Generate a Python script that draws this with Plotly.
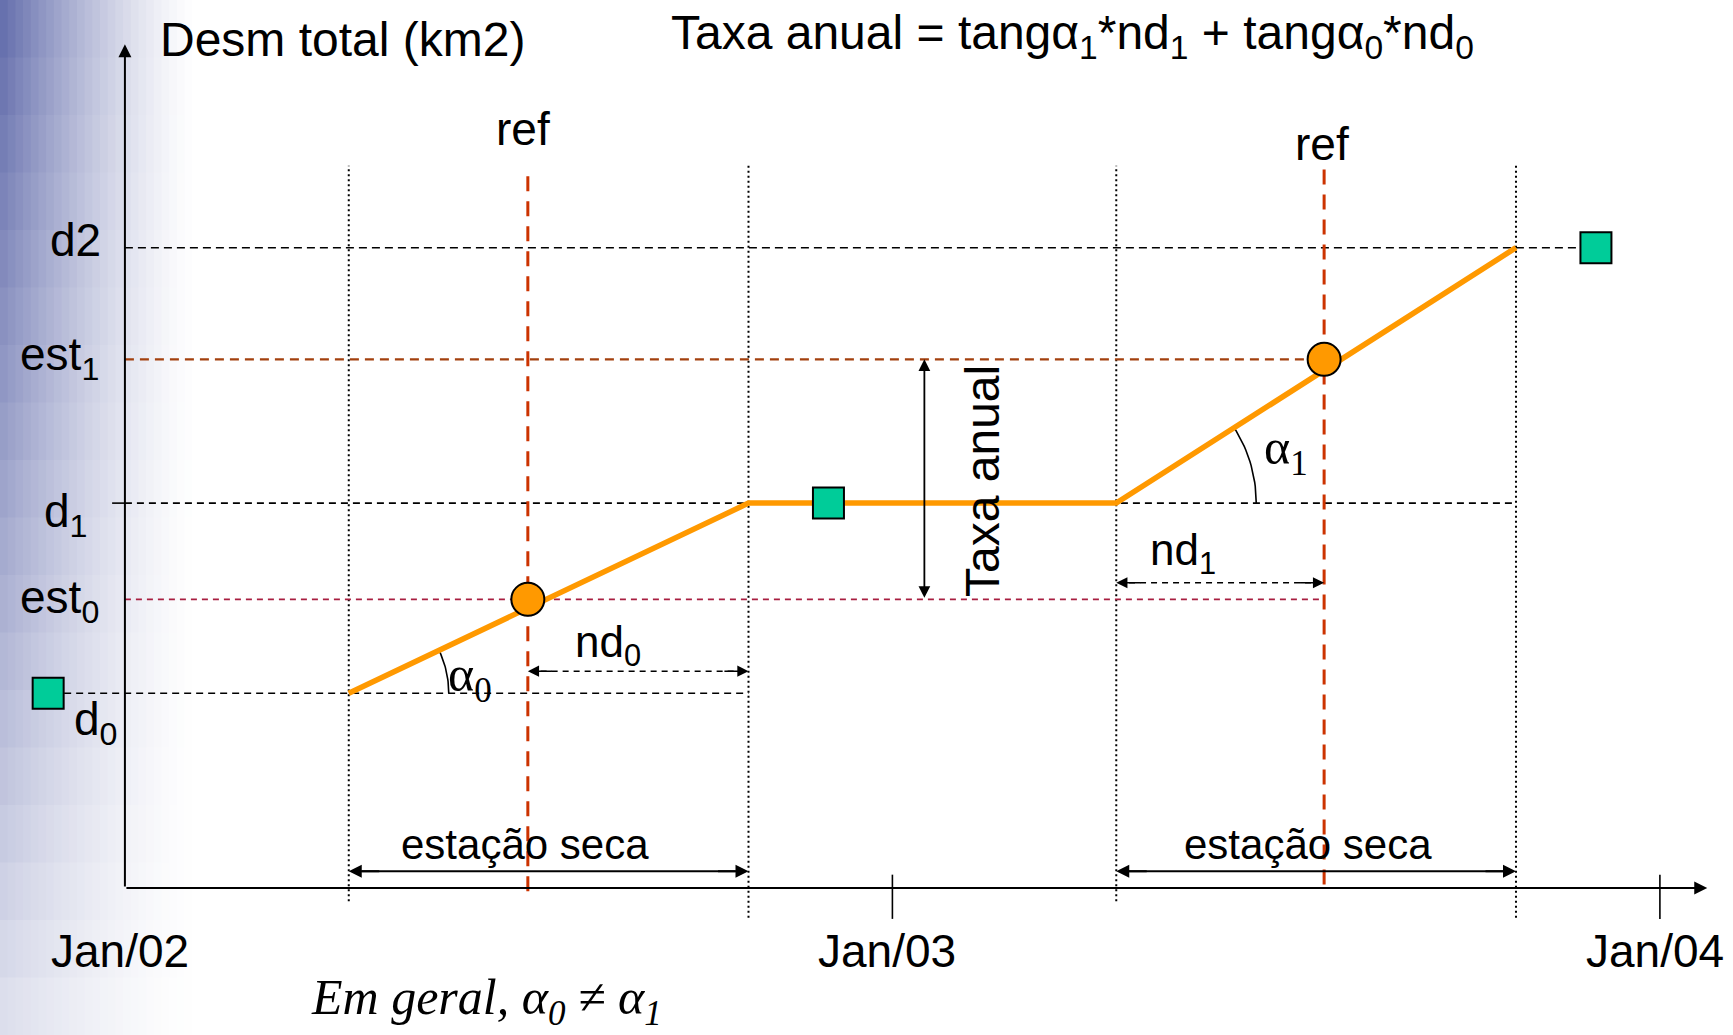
import numpy as np
import plotly.graph_objects as go

W, H = 1733, 1035

# ---------------- data (x = months since Jan/02, y = deforestation, arbitrary units)
month_ticks = [0, 12, 24]
tick_labels = ["Jan/02", "Jan/03", "Jan/04"]
season_bounds = [3.5, 9.75, 15.5, 21.75]      # dry season start / end, year 1 and year 2
ref_months = [6.3, 18.75]                     # reference dates

level_names = ["d0", "est0", "d1", "est1", "d2"]
level_values = [1.76, 2.61, 3.48, 4.78, 5.79]
d0, est0, d1, est1, d2 = level_values

cum_x = [3.5, 9.75, 15.5, 21.75]              # cumulative deforestation model
cum_y = [d0, d1, d1, d2]

obs_x = [-1.2, 11.0, 23.0]                    # observed totals (squares)
obs_y = [d0, d1, d2]

est_x = ref_months                            # estimates at reference dates (circles)
est_y = [est0, est1]

# ---------------- geometry helpers
XR = [-1.953, 25.143]
YR = [-1.33, 8.03]
PX = W / (XR[1] - XR[0])   # px per month
PY = H / (YR[1] - YR[0])   # px per unit

FONT = "Liberation Sans, Arial, sans-serif"
SERIF = "Liberation Serif, Times New Roman, serif"

fig = go.Figure()

def line(xs, ys, color="black", width=1.6, dash="solid"):
    fig.add_trace(go.Scatter(x=xs, y=ys, mode="lines", hoverinfo="skip",
                             line=dict(color=color, width=width, dash=dash)))

# background gradient on the left (paper coords)
shapes = []
ncol, nrow = 26, 18
for i in range(ncol):
    for j in range(nrow):
        px = (i + 0.5) * 200 / ncol
        py = (j + 0.5) * H / nrow
        a = max(0.0, 1 - px / 195) ** 1.35 * (1 - 0.8 * py / H)
        base = np.array([96, 106, 170])
        c = (1 - a) * np.array([255, 255, 255]) + a * base
        shapes.append(dict(type="rect", xref="paper", yref="paper", layer="below",
                           x0=i * 200 / ncol / W, x1=(i + 1) * 200 / ncol / W + 0.0005,
                           y0=1 - (j + 1) * H / nrow / H - 0.0005, y1=1 - j * H / nrow / H,
                           line=dict(width=0),
                           fillcolor="rgb(%d,%d,%d)" % tuple(int(v) for v in c)))

# vertical dotted lines (dry season bounds)
v_bottom = [-0.12, -0.27, -0.12, -0.27]
for xv, yb in zip(season_bounds, v_bottom):
    line([xv, xv], [yb, 6.53], width=2, dash="2px,3px")

# horizontal reference lines
line([0, obs_x[2] - 0.25], [d2, d2], dash="8px,5px")
line([0, est_x[1]], [est1, est1], color="#A3400E", width=2.2, dash="9px,6px")
line([0, season_bounds[3]], [d1, d1], dash="7px,5px")
line([-0.2, 0], [d1, d1], width=1.6)
line([0, est_x[1]], [est0, est0], color="#A81E40", width=1.8, dash="6px,5px")
line([obs_x[0] + 0.25, season_bounds[1]], [d0, d0], dash="7px,5px")

# ref dashed red lines
line([ref_months[0]] * 2, [-0.03, 6.45], color="#CC3300", width=3, dash="15px,10px")
line([ref_months[1]] * 2, [0.03, 6.53], color="#CC3300", width=3, dash="15px,10px")

# x-axis ticks
for t in month_ticks[1:]:
    line([t, t], [0.12, -0.28], width=1.6)

# nd dashed arrows
line([ref_months[0] + 0.2, season_bounds[1] - 0.2], [1.96, 1.96], dash="6px,5px")
line([season_bounds[2] + 0.2, ref_months[1] - 0.2], [2.76, 2.76], dash="6px,5px")

# dry-season arrows baseline
for a, b in [(season_bounds[0], season_bounds[1]), (season_bounds[2], season_bounds[3])]:
    line([a + 0.2, b - 0.2], [0.15, 0.15], width=2)

# angle arcs
def arc(cx, cy, r, t0, t1):
    t = np.linspace(t0, t1, 20)
    line(cx + r * np.cos(t) / PX, cy + r * np.sin(t) / PY, width=1.6)

ang0 = np.arctan2((cum_y[1] - cum_y[0]) * PY, (cum_x[1] - cum_x[0]) * PX)
ang1 = np.arctan2((cum_y[3] - cum_y[2]) * PY, (cum_x[3] - cum_x[2]) * PX)
arc(cum_x[0], cum_y[0], 100, 0, ang0)
arc(cum_x[2], cum_y[2], 140, 0, ang1)

# orange cumulative line
line(cum_x, cum_y, color="#FF9900", width=5.5)

# markers
fig.add_trace(go.Scatter(x=obs_x, y=obs_y, mode="markers", hoverinfo="skip",
                         marker=dict(symbol="square", size=31, color="#00CC99",
                                     line=dict(color="black", width=2))))
fig.add_trace(go.Scatter(x=est_x, y=est_y, mode="markers", hoverinfo="skip",
                         marker=dict(symbol="circle", size=33, color="#FF9900",
                                     line=dict(color="black", width=2))))

ann = []
def arrow(x, y, ax, ay, side="end", width=2, size=1.4):
    ann.append(dict(x=x, y=y, ax=ax, ay=ay, xref="x", yref="y", axref="x", ayref="y",
                    showarrow=True, arrowhead=2, arrowsize=size, arrowwidth=width,
                    arrowcolor="black", arrowside=side, text="", standoff=0, startstandoff=0))

def text(x, y, s, size=46, xanchor="center", yanchor="middle", font=FONT, angle=0):
    ann.append(dict(x=x, y=y, xref="x", yref="y", text=s, showarrow=False,
                    xanchor=xanchor, yanchor=yanchor, textangle=angle,
                    font=dict(family=font, size=size, color="black")))

# axes
arrow(0, 7.63, 0, 0, width=2, size=1.3)
arrow(24.74, 0, 0, 0, width=2, size=1.3)

# taxa anual double arrow
arrow(12.5, est1, 12.5, est0, side="end+start", width=1.8, size=1.3)
# nd arrows heads
arrow(ref_months[0], 1.96, ref_months[0] + 0.4, 1.96, width=1.6, size=1.4)
arrow(season_bounds[1], 1.96, season_bounds[1] - 0.4, 1.96, width=1.6, size=1.4)
arrow(season_bounds[2], 2.76, season_bounds[2] + 0.4, 2.76, width=1.6, size=1.4)
arrow(ref_months[1], 2.76, ref_months[1] - 0.4, 2.76, width=1.6, size=1.4)
# dry-season arrows heads
for a, b in [(season_bounds[0], season_bounds[1]), (season_bounds[2], season_bounds[3])]:
    arrow(a, 0.15, a + 0.5, 0.15, width=2, size=1.3)
    arrow(b, 0.15, b - 0.5, 0.15, width=2, size=1.3)

# texts
text(0.52, 7.67, "Desm total (km2)", xanchor="left", size=48)
text(8.5, 7.70, "Taxa anual = tangα<sub>1</sub>*nd<sub>1</sub> + tangα<sub>0</sub>*nd<sub>0</sub>", xanchor="left", size=48)
text(ref_months[0] - 0.08, 6.86, "ref")
text(ref_months[1] - 0.03, 6.73, "ref")
text(-0.35, 5.86, "d2", xanchor="right")
text(-0.38, 4.80, "est<sub>1</sub>", xanchor="right")
text(-0.55, 3.38, "d<sub>1</sub>", xanchor="right")
text(-0.38, 2.60, "est<sub>0</sub>", xanchor="right")
text(-0.83, 1.50, "d<sub>0</sub>", xanchor="left")
for t, lab in zip(month_ticks, tick_labels):
    text(t - 0.08, -0.57, lab)
text(6.25, 0.39, "estação seca", size=42)
text(18.5, 0.39, "estação seca", size=42)
text(7.55, 2.2, "nd<sub>0</sub>", size=44)
text(16.55, 3.03, "nd<sub>1</sub>", size=44)
text(5.4, 1.9, "α<sub>0</sub>", size=50, font=SERIF)
text(18.15, 3.95, "α<sub>1</sub>", size=50, font=SERIF)
text(13.4, 3.68, "Taxa anual", size=48, angle=-90)
text(5.65, -1.02, "<i>Em geral, α<sub>0</sub> ≠ α<sub>1</sub></i>", size=50, font=SERIF)

fig.update_layout(
    width=W, height=H, margin=dict(l=0, r=0, t=0, b=0),
    paper_bgcolor="white", plot_bgcolor="rgba(0,0,0,0)",
    showlegend=False, shapes=shapes, annotations=ann,
    xaxis=dict(range=XR, visible=False, fixedrange=True),
    yaxis=dict(range=YR, visible=False, fixedrange=True),
)

fig.write_html("out.html", config={"displayModeBar": False},
               post_script="document.body.style.margin='0';document.body.style.overflow='hidden';")
